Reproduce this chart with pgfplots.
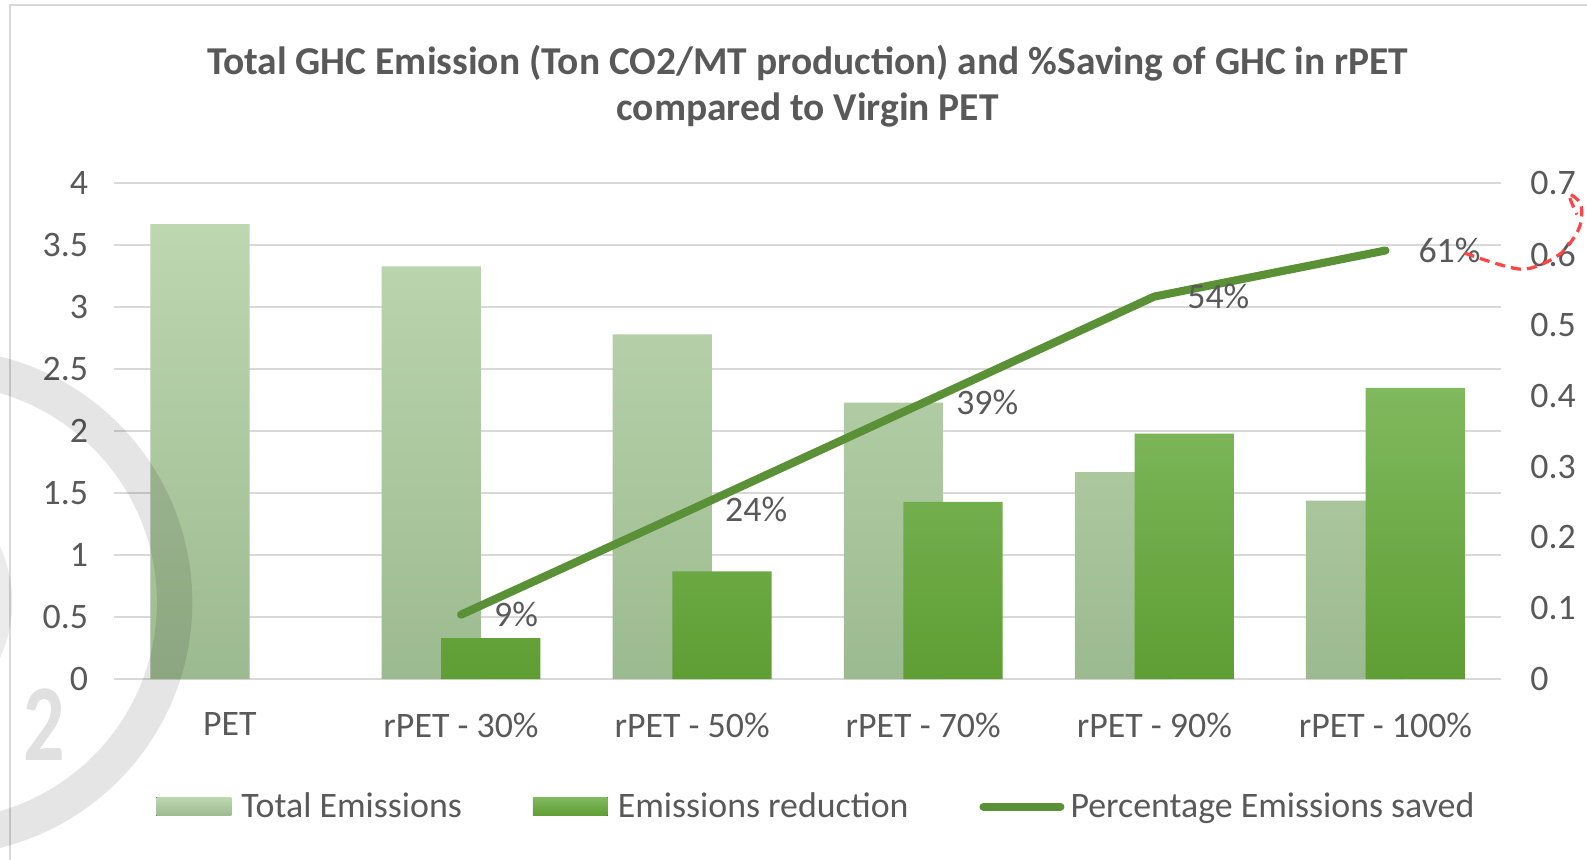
\documentclass[border=0pt]{standalone}
\usepackage{pgfplots}
\pgfplotsset{compat=1.18}
\usepackage{fontspec}
\setmainfont{Carlito}
\definecolor{txt}{HTML}{595959}
\definecolor{gridc}{HTML}{D9D9D9}
\definecolor{totTop}{HTML}{BDD7B1}
\definecolor{totBot}{HTML}{9CBA8F}
\definecolor{redTop}{HTML}{80B95E}
\definecolor{redBot}{HTML}{5E9E33}
\definecolor{lineG}{HTML}{5A9137}
\definecolor{markred}{HTML}{FF4545}
\newcommand{\lbl}{\fontsize{17.7}{21}\selectfont}
\begin{document}
\begin{tikzpicture}
\useasboundingbox (0,0) rectangle (784pt,-424.5pt);
\clip (0,0) rectangle (784pt,-424.5pt);
\fill[white] (0,0) rectangle (784pt,-424.5pt);
% chart frame
\draw[color=gridc, line width=1pt] (800pt,-2.5pt) -- (5pt,-2.5pt) -- (5pt,-440pt);
% title
\node[align=center, text=txt, font=\fontsize{19.5}{23}\selectfont\bfseries] at (399pt,-42.5pt)
  {Total GHC Emission (Ton CO2/MT production) and \%Saving of GHC in rPET\\compared to Virgin PET};

\begin{axis}[
  at={(56.5pt,-335.5pt)}, anchor=south west,
  scale only axis, width=685pt, height=245pt,
  xmin=-0.5, xmax=5.5, ymin=0, ymax=4,
  xtick={0,1,2,3,4,5},
  xticklabels={PET, rPET - 30\%, rPET - 50\%, rPET - 70\%, rPET - 90\%, rPET - 100\%},
  ytick={0,0.5,1,1.5,2,2.5,3,3.5,4},
  ymajorgrids, major grid style={color=gridc, line width=1pt},
  axis line style={draw=none}, tick style={draw=none},
  /pgf/number format/assume math mode=true,
  ticklabel style={font=\lbl, text=txt},
  yticklabel style={xshift=-9.5pt},
  xticklabel style={yshift=-13pt},
  legend columns=3,
  legend style={at={(0.507,-0.257)}, anchor=center, draw=none, fill=none,
    font=\lbl, text=txt,
    /tikz/every even column/.append style={column sep=33pt}},
  legend cell align=left,
]
\addplot[ybar, bar width=49pt, bar shift=-14.75pt, draw=none, top color=totTop, bottom color=totBot,
  legend image code/.code={\fill[draw=none, top color=totTop, bottom color=totBot] (0pt,-4.5pt) rectangle (37pt,4.5pt); \path[draw=none] (0pt,0pt) -- (40pt,0pt);}]
  coordinates {(0,3.67) (1,3.33) (2,2.78) (3,2.23) (4,1.67) (5,1.44)};
\addlegendentry{Total Emissions}
\addplot[ybar, bar width=49pt, bar shift=14.75pt, draw=none, top color=redTop, bottom color=redBot,
  legend image code/.code={\fill[draw=none, top color=redTop, bottom color=redBot] (0pt,-4.5pt) rectangle (37pt,4.5pt); \path[draw=none] (0pt,0pt) -- (40pt,0pt);}]
  coordinates {(1,0.33) (2,0.87) (3,1.43) (4,1.98) (5,2.35)};
\addlegendentry{Emissions reduction}
\addlegendimage{lineG, line width=4pt, line cap=round, legend image code/.code={\draw[lineG, line width=4pt, line cap=round] (2pt,0pt) -- (40pt,0pt); \path[draw=none] (0pt,0pt) -- (43pt,0pt);}}
\addlegendentry{Percentage Emissions saved}
\end{axis}

\begin{axis}[
  at={(56.5pt,-335.5pt)}, anchor=south west,
  scale only axis, width=685pt, height=245pt,
  xmin=-0.5, xmax=5.5, ymin=0, ymax=0.7,
  axis x line=none, axis y line*=right,
  ytick={0,0.1,0.2,0.3,0.4,0.5,0.6,0.7},
  yticklabel pos=right,
  axis line style={draw=none}, tick style={draw=none},
  /pgf/number format/assume math mode=true,
  /pgf/number format/fixed,
  ticklabel style={font=\lbl, text=txt},
  yticklabel style={xshift=11pt},
]
\addplot[color=lineG, line width=4pt, line cap=round, line join=round,
  nodes near coords, point meta=explicit symbolic,
  every node near coord/.append style={anchor=west, xshift=11pt, font=\lbl, text=txt}]
  coordinates {(1,0.091)[9\%] (2,0.24)[24\%] (3,0.39)[39\%] (4,0.54)[54\%] (5,0.605)[61\%]};
\end{axis}

% watermark
\draw[black, opacity=0.1, line width=17.5pt] (-30pt,-297.5pt) circle (116.25pt);
\draw[black, opacity=0.08, line width=8pt] (-60pt,-297.5pt) circle (62pt);
\node[text=black, opacity=0.12, font=\fontsize{54}{54}\selectfont\bfseries, xscale=0.75] at (22pt,-358pt) {2};
% red annotation
\draw[markred, line width=1.6pt, dash pattern=on 5pt off 3pt] plot[smooth] coordinates
  {(723.5pt,-125pt) (751.5pt,-133pt) (770pt,-126pt) (780pt,-113pt) (781pt,-101pt) (775pt,-96pt) (779pt,-106pt)};
\end{tikzpicture}
\end{document}
